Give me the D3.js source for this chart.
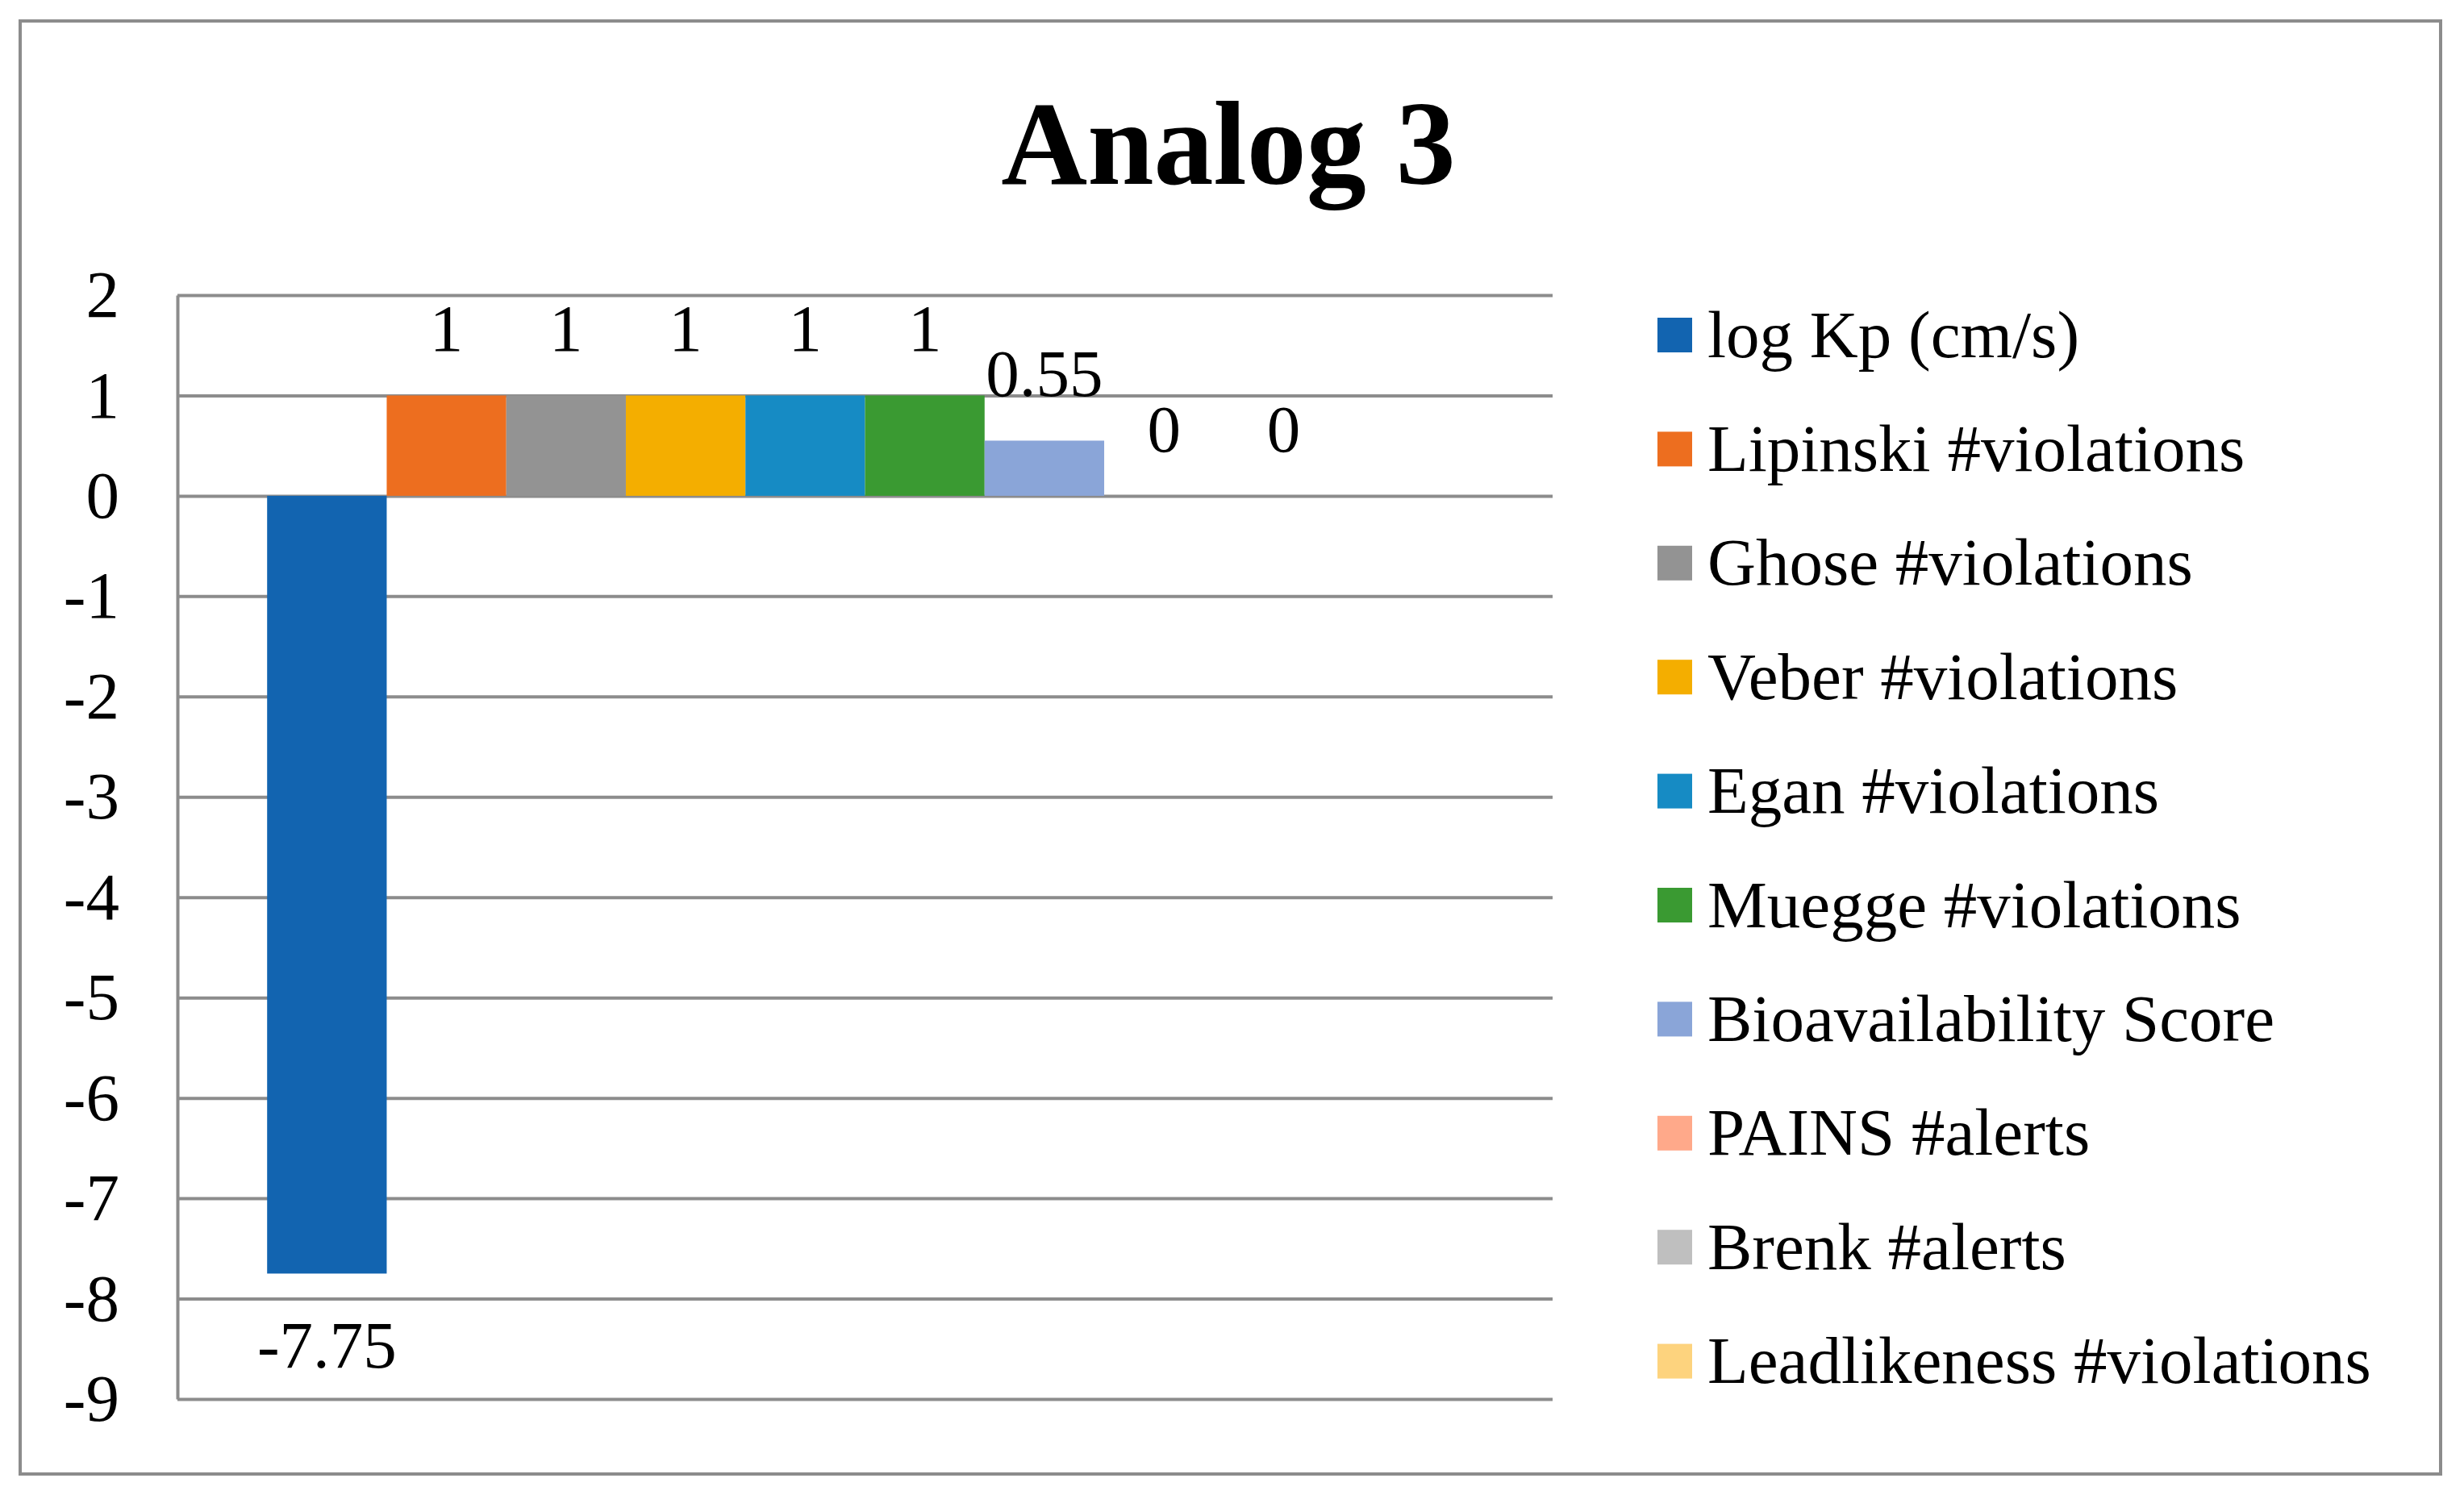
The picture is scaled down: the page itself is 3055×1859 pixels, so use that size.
<!DOCTYPE html>
<html>
<head>
<meta charset="utf-8">
<script src="https://cdn.jsdelivr.net/npm/d3@7"></script>
<style>
  html, body { margin: 0; padding: 0; background: #ffffff; }
  svg { display: block; }
  text { font-family: "Liberation Serif", "Times New Roman", serif; fill: #000; }
</style>
</head>
<body>
<svg id="chart" width="3055" height="1859"></svg>
<script>
// ---- data ----
const title = "Analog 3";
const seriesNames = [
  "log Kp (cm/s)",
  "Lipinski #violations",
  "Ghose #violations",
  "Veber #violations",
  "Egan #violations",
  "Muegge #violations",
  "Bioavailability Score",
  "PAINS #alerts",
  "Brenk #alerts",
  "Leadlikeness #violations"
];
const seriesValues = [-7.75, 1, 1, 1, 1, 1, 0.55, 0, 0, null];
const seriesColors = [
  "#1264B0", "#ED6E1F", "#939393", "#F4AE00", "#168BC4",
  "#3A9A32", "#8AA5D8", "#FFA98A", "#BFBFBF", "#FDD37E"
];
const yTicks = [2, 1, 0, -1, -2, -3, -4, -5, -6, -7, -8, -9];
const yDomain = [-9, 2];

// ---- layout ----
const W = 3055, H = 1859;
const plot = { left: 220, right: 1925, top: 366, bottom: 1735 };
const gridColor = "#8c8c8c";
const fontSize = 83;

const svg = d3.select("#chart");

svg.append("rect")
  .attr("x", 0).attr("y", 0).attr("width", W).attr("height", H)
  .attr("fill", "#fff");

// outer border
svg.append("rect")
  .attr("x", 25).attr("y", 26).attr("width", 3001).attr("height", 1802)
  .attr("fill", "none").attr("stroke", gridColor).attr("stroke-width", 4);

// title
svg.append("text")
  .attr("x", 1523).attr("y", 228)
  .attr("text-anchor", "middle")
  .style("font-size", "148px").style("font-weight", "bold")
  .text(title);

const y = d3.scaleLinear().domain(yDomain).range([plot.bottom, plot.top]);
const x = d3.scaleBand().domain(seriesNames)
  .range([plot.left, plot.right]).paddingInner(0).paddingOuter(0.75);

// gridlines
const grid = svg.append("g")
  .attr("transform", `translate(${plot.left},0)`)
  .call(d3.axisLeft(y).tickValues(yTicks)
    .tickSize(-(plot.right - plot.left)).tickFormat(""));
grid.select(".domain").remove();
grid.selectAll(".tick line").attr("stroke", gridColor).attr("stroke-width", 4);

// bars
svg.append("g").selectAll("rect")
  .data(seriesNames.map((n, i) => ({ name: n, value: seriesValues[i], color: seriesColors[i] }))
    .filter(d => d.value !== null))
  .join("rect")
  .attr("x", d => x(d.name))
  .attr("width", x.bandwidth())
  .attr("y", d => Math.min(y(d.value), y(0)))
  .attr("height", d => Math.abs(y(d.value) - y(0)))
  .attr("fill", d => d.color);

// y axis (line + labels)
const yAxis = svg.append("g")
  .attr("transform", `translate(${plot.left},0)`)
  .call(d3.axisLeft(y).tickValues(yTicks).tickSize(0).tickSizeOuter(0)
    .tickPadding(72).tickFormat(d => String(d)));
yAxis.select(".domain").attr("stroke", gridColor).attr("stroke-width", 4);
yAxis.selectAll(".tick text")
  .style("font-size", fontSize + "px")
  .style("font-family", '"Liberation Serif", "Times New Roman", serif')
  .attr("fill", "#000");

// data labels
svg.append("g").selectAll("text")
  .data(seriesNames.map((n, i) => ({ name: n, value: seriesValues[i] })).filter(d => d.value !== null))
  .join("text")
  .attr("x", d => x(d.name) + x.bandwidth() / 2)
  .attr("y", d => d.value >= 0 ? y(d.value) - 55 : y(d.value) + 117)
  .attr("text-anchor", "middle")
  .style("font-size", fontSize + "px")
  .text(d => String(d.value));

// legend
const legend = svg.append("g");
const legendTop = 415.5, legendStep = 141.4;
const items = legend.selectAll("g")
  .data(seriesNames.map((n, i) => ({ name: n, color: seriesColors[i] })))
  .join("g")
  .attr("transform", (d, i) => `translate(2055, ${legendTop + i * legendStep})`);
items.append("rect")
  .attr("x", 0).attr("y", -21.5).attr("width", 43).attr("height", 43)
  .attr("fill", d => d.color);
items.append("text")
  .attr("x", 62).attr("y", 27)
  .style("font-size", fontSize + "px")
  .text(d => d.name);
</script>
</body>
</html>
